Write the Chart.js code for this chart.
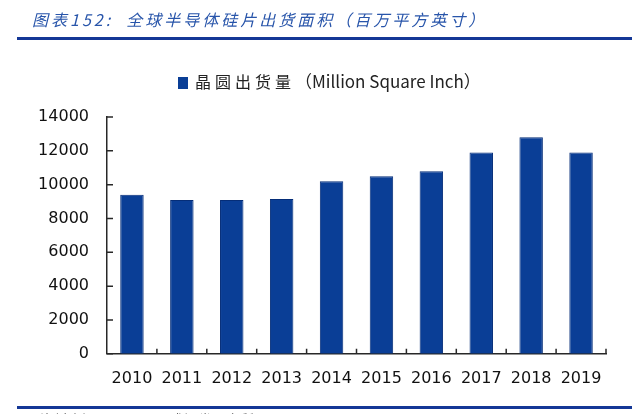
<!DOCTYPE html>
<html>
<head>
<meta charset="utf-8">
<script src="https://cdn.jsdelivr.net/npm/chart.js@4"></script>
<style>
  html, body { margin: 0; padding: 0; background: #fff; }
  #wrap { position: relative; width: 640px; height: 414px; }
</style>
</head>
<body>
<div id="wrap"><canvas id="graph1"></canvas></div>
<script>
const years = ["2010", "2011", "2012", "2013", "2014", "2015", "2016", "2017", "2018", "2019"];
const shipments = [9400, 9100, 9100, 9150, 10200, 10500, 10800, 11900, 12800, 11900];
const yTicks = [0, 2000, 4000, 6000, 8000, 10000, 12000, 14000];

const titleText = "图表152:  全球半导体硅片出货面积（百万平方英寸）";
const legendCn = "晶圆出货量";
const legendEn = "（Million Square Inch）";
const sourceText = "资料来源：SEMI，国盛证券研究所";

const barColor = "rgb(10, 62, 150)";
const axisColor = "rgb(40, 40, 40)";

// title, legend, rules and inner tick marks
const decor = {
  id: "decor",
  afterDraw(chart) {
    const ctx = chart.ctx;
    const xs = chart.scales.x;
    const ys = chart.scales.y;
    ctx.save();

    ctx.fillStyle = "rgb(40, 85, 170)";
    ctx.font = "italic 16px 'Noto Sans CJK SC', 'DejaVu Sans', sans-serif";
    ctx.textBaseline = "middle";
    ctx.textAlign = "left";
    ctx.letterSpacing = "3px";
    ctx.fillText(titleText, 32, 20);
    ctx.letterSpacing = "0px";

    ctx.fillStyle = "rgb(20, 55, 150)";
    ctx.fillRect(17, 37, 615, 3);
    ctx.fillRect(17, 406, 615, 3);

    ctx.fillStyle = "#666";
    ctx.font = "14px 'Noto Sans CJK SC', sans-serif";
    ctx.textBaseline = "top";
    ctx.fillText(sourceText, 40, 413);

    // legend
    ctx.textBaseline = "middle";
    ctx.fillStyle = barColor;
    ctx.fillRect(178, 77, 10, 12);
    ctx.fillStyle = "#222";
    ctx.font = "16px 'Noto Sans CJK SC', sans-serif";
    ctx.letterSpacing = "4px";
    ctx.fillText(legendCn, 195, 82);
    const cw = ctx.measureText(legendCn).width;
    ctx.letterSpacing = "0px";
    ctx.font = "17px 'Noto Sans CJK SC', 'DejaVu Sans', sans-serif";
    ctx.fillText(legendEn, 195 + cw, 82);

    // tick marks pointing inward
    ctx.strokeStyle = axisColor;
    ctx.lineWidth = 1.5;
    ctx.beginPath();
    yTicks.forEach(v => {
      const y = ys.getPixelForValue(v);
      ctx.moveTo(xs.left, y);
      ctx.lineTo(xs.left + 6, y);
    });
    const n = years.length;
    for (let i = 1; i <= n; i++) {
      const x = xs.left + i * (xs.right - xs.left) / n;
      ctx.moveTo(x, ys.bottom);
      ctx.lineTo(x, ys.bottom - 5);
    }
    ctx.stroke();
    ctx.restore();
  }
};

const graph1 = new Chart(document.getElementById("graph1").getContext("2d"), {
  type: "bar",
  data: {
    labels: years,
    datasets: [
      {
        label: legendCn + legendEn,
        data: shipments,
        backgroundColor: barColor,
        borderColor: "rgb(5, 45, 120)",
        borderWidth: 1,
        barPercentage: 0.47,
        categoryPercentage: 1,
      },
    ],
  },
  options: {
    responsive: true,
    maintainAspectRatio: false,
    animation: false,
    layout: {
      padding: { top: 117, right: 34, bottom: 11, left: 0 }
    },
    plugins: {
      legend: { display: false },
      tooltip: { enabled: false },
    },
    scales: {
      x: {
        grid: { display: false, drawTicks: false },
        border: { display: true, color: axisColor, width: 1.5 },
        ticks: {
          color: "#111",
          padding: 15,
          maxRotation: 0,
          font: { family: "'DejaVu Sans'", size: 16 },
        },
      },
      y: {
        min: 0,
        max: 14000,
        afterFit(scale) { scale.width = 107; },
        afterBuildTicks(scale) { scale.ticks = yTicks.map(v => ({ value: v })); },
        grid: { display: false, drawTicks: false },
        border: { display: true, color: axisColor, width: 1.5 },
        ticks: {
          color: "#111",
          padding: 18,
          font: { family: "'DejaVu Sans'", size: 16 },
          callback: (v) => String(v),
        },
      },
    },
  },
  plugins: [decor],
});
</script>
</body>
</html>
